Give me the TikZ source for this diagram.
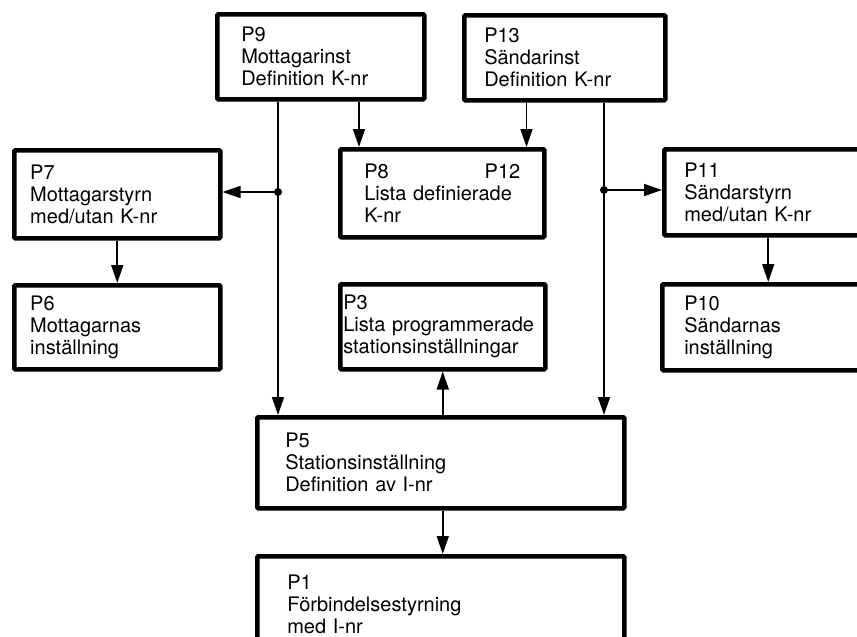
\documentclass[tikz,border=0pt]{standalone}
\usepackage{fontspec}
\setmainfont{TeX Gyre Heros}
\usetikzlibrary{arrows.meta,positioning,calc}
\tikzset{
  >={Triangle[length=18pt,width=12pt]},
  every node/.style={font=\fontsize{20}{22}\selectfont},
  proc/.style={draw,line width=4.5pt,anchor=north west,align=left,inner ysep=0pt,rounded corners=1pt},
  link/.style={->,line width=1.6pt},
  tee/.style={fill,radius=4pt}
}

\begin{document}
\begin{tikzpicture}[x=1pt,y=-1pt]
  \useasboundingbox (0,0) rectangle (857,637);
  \clip (0,0) rectangle (857,637);

  % top row
  \node[proc,minimum width=207pt,minimum height=85pt,text width=159pt,inner xsep=24pt] (p9) at (215,12) {P9\\Mottagarinst\\Definition K-nr};
  \node[proc,minimum width=201pt,minimum height=85pt,text width=161pt,inner xsep=20pt] (p13) at (462,13) {P13\\Sändarinst\\Definition K-nr};

  % second row
  \node[proc,minimum width=206pt,minimum height=88pt,text width=174pt,inner xsep=16pt] (p7) at (12,148) {P7\\Mottagarstyrn\\med/utan K-nr};
  \node[proc,minimum width=204pt,minimum height=88pt,text width=156pt,inner xsep=24pt] (p8) at (338,147) {P8\hfill P12\\Lista definierade\\K-nr};
  \node[proc,minimum width=208pt,minimum height=86pt,text width=168pt,inner xsep=20pt] (p11) at (662,147) {P11\\Sändarstyrn\\med/utan K-nr};

  % third row
  \node[proc,minimum width=206pt,minimum height=84pt,text width=174pt,inner xsep=16pt] (p6) at (12,283) {P6\\Mottagarnas\\inställning};
  \node[proc,minimum width=205pt,minimum height=85pt,text width=199pt,inner xsep=3pt] (p3) at (338,282) {P3\\Lista programmerade\\stationsinställningar};
  \node[proc,minimum width=210pt,minimum height=86pt,text width=166pt,inner xsep=22pt] (p10) at (660,282) {P10\\Sändarnas\\inställning};

  % bottom
  \node[proc,minimum width=367pt,minimum height=91pt,text width=311pt,inner xsep=28pt] (p5) at (255,415) {P5\\Stationsinställning\\Definition av I-nr};
  \node[proc,minimum width=367pt,minimum height=96pt,text width=307pt,inner xsep=30pt] (p1) at (255,554) {P1\\Förbindelsestyrning\\med I-nr};

  % branch points
  \coordinate (jl) at (278,192);
  \coordinate (jr) at (604,190);

  \draw[link] (p9.south -| jl) -- (p5.north -| jl);
  \draw[link] (jl) -- (p7.east |- jl);
  \fill[tee] (jl) circle;
  \draw[link] (p13.south -| jr) -- (p5.north -| jr);
  \draw[link] (jr) -- (p11.west |- jr);
  \fill[tee] (jr) circle;

  \draw[link] ([xshift=21pt]p8.north west |- p9.south) -- ([xshift=21pt]p8.north west);
  \draw[link] ([xshift=-20pt]p8.north east |- p13.south) -- ([xshift=-20pt]p8.north east);
  \draw[link] (p7.south) -- (p6.north);
  \draw[link] (p11.south) -- (p10.north -| p11.south);
  \draw[link] (p5.north -| p3.south) -- (p3.south);
  \draw[link] (p5.south -| p3.south) -- (p1.north -| p3.south);
\end{tikzpicture}
\end{document}
